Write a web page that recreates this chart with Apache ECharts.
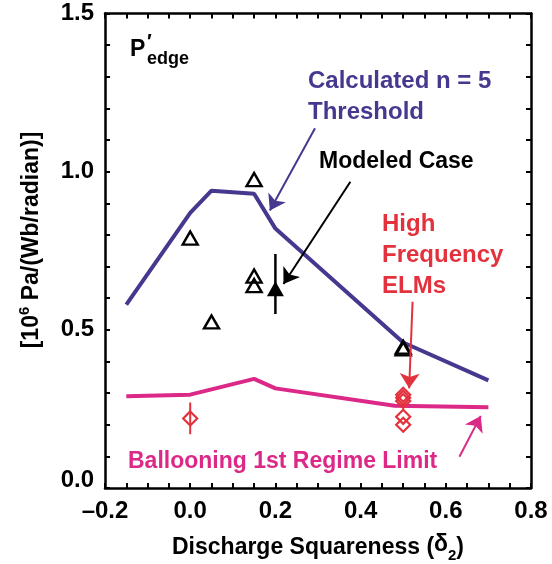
<!DOCTYPE html>
<html><head><meta charset="utf-8">
<script src="https://cdn.jsdelivr.net/npm/echarts@6/dist/echarts.min.js"></script>
<style>html,body{margin:0;padding:0;background:#fff}#c{width:552px;height:564px}</style>
</head><body><div id="c"></div>
<script>
// ---- data ----
const xTickValues = [-0.2, 0.0, 0.2, 0.4, 0.6, 0.8];
const xTickLabels = ['–0.2', '0.0', '0.2', '0.4', '0.6', '0.8'];
const yTickValues = [0.0, 0.5, 1.0, 1.5];
const yTickLabels = ['0.0', '0.5', '1.0', '1.5'];
const thresholdX = [-0.15, 0.0, 0.05, 0.15, 0.20, 0.50, 0.70];
const thresholdY = [0.58, 0.87, 0.94, 0.93, 0.82, 0.46, 0.34];
const balloonX = [-0.15, 0.0, 0.15, 0.20, 0.48, 0.70];
const balloonY = [0.29, 0.295, 0.345, 0.315, 0.26, 0.255];
const openTriX = [0.0, 0.05, 0.15, 0.15, 0.15, 0.50, 0.50];
const openTriY = [0.79, 0.525, 0.975, 0.67, 0.64, 0.44, 0.445];
const modeledX = [0.20];
const modeledY = [0.63];
const modeledLo = [0.55];
const modeledHi = [0.74];
const elmX = [0.0, 0.5, 0.5, 0.5, 0.5, 0.5];
const elmY = [0.22, 0.295, 0.285, 0.275, 0.225, 0.20];
const elmErrX = [0.0];
const elmErrLo = [0.17];
const elmErrHi = [0.27];
// annotation arrows (data coords): [fromX, fromY, toX, toY]
const arrowThreshold = [0.293, 1.137, 0.187, 0.877];
const arrowModeled = [0.376, 0.968, 0.219, 0.645];
const arrowELM = [0.522, 0.589, 0.514, 0.315];
const arrowBalloon = [0.632, 0.099, 0.682, 0.228];

// ---- styles ----
const BLUE = '#47388f', PINK = '#dc2887', RED = '#e3323d';
function hasFont(name){
  const c = document.createElement('canvas').getContext('2d');
  const t = '0.5 –0.2 abcdefghij';
  c.font = 'bold 40px monospace'; const a = c.measureText(t).width;
  c.font = 'bold 40px "' + name + '", monospace'; const b = c.measureText(t).width;
  return Math.abs(a - b) > 0.5;
}
const narrow = hasFont('Liberation Sans Narrow');
const tickFont = narrow ? {fontFamily: '"Liberation Sans Narrow"', fontSize: 28}
                        : {fontFamily: '"Liberation Sans", Arial', fontSize: 24};
const SANS = '"Liberation Sans", Arial, sans-serif';

function labelFor(vals, labs, liftFirst){
  return function(v){
    for (let i = 0; i < vals.length; i++) if (Math.abs(v - vals[i]) < 1e-6) {
      return (liftFirst && i === 0) ? '{z|' + labs[i] + '}' : labs[i];
    }
    return '';
  };
}
const zip = (a, b) => a.map((v, i) => [v, b[i]]);
const frame = {onZero: false, lineStyle: {color: '#000', width: 2.5}};
const tick = {show: true, inside: true, length: 5, lineStyle: {color: '#000', width: 2}};

function arrowSeries(a, color){
  return {type: 'lines', coordinateSystem: 'cartesian2d', z: 6,
    symbol: ['none', 'arrow'], symbolSize: [0, 15],
    lineStyle: {color: color, width: 2, opacity: 1},
    data: [{coords: [[a[0], a[1]], [a[2], a[3]]]}], silent: true, animation: false};
}
function errSeries(xs, lo, hi, color, w){
  return xs.map((x, i) => ({type: 'line', data: [[x, lo[i]], [x, hi[i]]], symbol: 'none',
    lineStyle: {color: color, width: w}, z: 3, silent: true}));
}

const chart = echarts.init(document.getElementById('c'), null, {renderer: 'canvas'});
const option = {
  animation: false,
  backgroundColor: '#fff',
  grid: {left: 105, right: 21, top: 13.5, bottom: 76, containLabel: false},
  xAxis: [
    {type: 'value', min: -0.2, max: 0.8, interval: 0.05, axisLine: frame, axisTick: tick,
     splitLine: {show: false},
     axisLabel: {formatter: labelFor(xTickValues, xTickLabels, false), color: '#000', fontWeight: 'bold',
       fontFamily: tickFont.fontFamily, fontSize: tickFont.fontSize, margin: 11, showMinLabel: true, showMaxLabel: true}},
    {type: 'value', position: 'top', min: -0.2, max: 0.8, interval: 0.05, axisLine: frame, axisTick: tick,
     splitLine: {show: false}, axisLabel: {show: false}}
  ],
  yAxis: [
    {type: 'value', min: 0, max: 1.5, interval: 0.1, axisLine: frame, axisTick: tick,
     splitLine: {show: false},
     axisLabel: {formatter: labelFor(yTickValues, yTickLabels, true), color: '#000', fontWeight: 'bold',
       fontFamily: tickFont.fontFamily, fontSize: tickFont.fontSize, margin: 11, showMinLabel: true, showMaxLabel: true,
       rich: {z: {fontWeight: 'bold', fontFamily: tickFont.fontFamily, fontSize: tickFont.fontSize, color: '#000',
                  padding: [0, 0, 16, 0]}}}},
    {type: 'value', position: 'right', min: 0, max: 1.5, interval: 0.1, axisLine: frame, axisTick: tick,
     splitLine: {show: false}, axisLabel: {show: false}}
  ],
  series: [
    {type: 'line', data: zip(balloonX, balloonY), symbol: 'none', lineStyle: {color: PINK, width: 4}, z: 2},
    {type: 'line', data: zip(thresholdX, thresholdY), symbol: 'none', lineStyle: {color: BLUE, width: 4}, z: 2},
    {type: 'scatter', data: zip(openTriX, openTriY), symbol: 'triangle', symbolSize: [15, 13],
     itemStyle: {color: 'rgba(255,255,255,0)', borderColor: '#000', borderWidth: 2.4, opacity: 1}, z: 4},
    ...errSeries(modeledX, modeledLo, modeledHi, '#000', 2.5),
    {type: 'scatter', data: zip(modeledX, modeledY), symbol: 'triangle', symbolSize: [17, 15],
     itemStyle: {color: '#000', opacity: 1}, z: 4},
    ...errSeries(elmErrX, elmErrLo, elmErrHi, RED, 2),
    {type: 'scatter', data: zip(elmX, elmY), symbol: 'diamond', symbolSize: [14, 14],
     itemStyle: {color: 'rgba(255,255,255,0)', borderColor: RED, borderWidth: 2.2, opacity: 1}, z: 4},
    arrowSeries(arrowThreshold, BLUE),
    arrowSeries(arrowModeled, '#000'),
    arrowSeries(arrowELM, RED),
    arrowSeries(arrowBalloon, PINK)
  ],
  graphic: [
    {type: 'text', x: 130, y: 50, style: {text: 'P', font: 'bold 23px ' + SANS, fill: '#000', verticalAlign: 'middle'}},
    {type: 'text', x: 147, y: 42, style: {text: '′', font: 'bold 20px ' + SANS, fill: '#000', verticalAlign: 'middle'}},
    {type: 'text', x: 147, y: 59, style: {text: 'edge', font: 'bold 18px ' + SANS, fill: '#000', verticalAlign: 'middle'}},
    {type: 'text', x: 308, y: 81, style: {text: 'Calculated n = 5', font: 'bold 24px ' + SANS, fill: BLUE, verticalAlign: 'middle'}},
    {type: 'text', x: 308, y: 112, style: {text: 'Threshold', font: 'bold 24px ' + SANS, fill: BLUE, verticalAlign: 'middle'}},
    {type: 'text', x: 319, y: 162, style: {text: 'Modeled Case', font: 'bold 23px ' + SANS, fill: '#000', verticalAlign: 'middle'}},
    {type: 'text', x: 382, y: 224, style: {text: 'High', font: 'bold 24px ' + SANS, fill: RED, verticalAlign: 'middle'}},
    {type: 'text', x: 382, y: 255, style: {text: 'Frequency', font: 'bold 24px ' + SANS, fill: RED, verticalAlign: 'middle'}},
    {type: 'text', x: 382, y: 286, style: {text: 'ELMs', font: 'bold 24px ' + SANS, fill: RED, verticalAlign: 'middle'}},
    {type: 'text', x: 128, y: 462, style: {text: 'Ballooning 1st Regime Limit', font: 'bold 23px ' + SANS, fill: PINK, verticalAlign: 'middle'}},
    {type: 'text', x: 318, y: 548, style: {text: 'Discharge Squareness ({d|δ}{s|2})', font: 'bold 23px ' + SANS, fill: '#000',
      align: 'center', verticalAlign: 'middle',
      rich: {d: {font: 'bold 23px ' + SANS, fill: '#000', lineHeight: 30, verticalAlign: 'top'},
             s: {font: 'bold 15px ' + SANS, fill: '#000', lineHeight: 15, verticalAlign: 'bottom'}}}},
    {type: 'text', x: 32, y: 240, rotation: Math.PI / 2, style: {text: '[10{p|6} Pa/(Wb/radian)]', font: 'bold 23px ' + SANS, fill: '#000',
      align: 'center', verticalAlign: 'middle',
      rich: {p: {font: 'bold 15px ' + SANS, fill: '#000', lineHeight: 30, verticalAlign: 'top'}}}}
  ]
};
chart.setOption(option);
</script></body></html>
